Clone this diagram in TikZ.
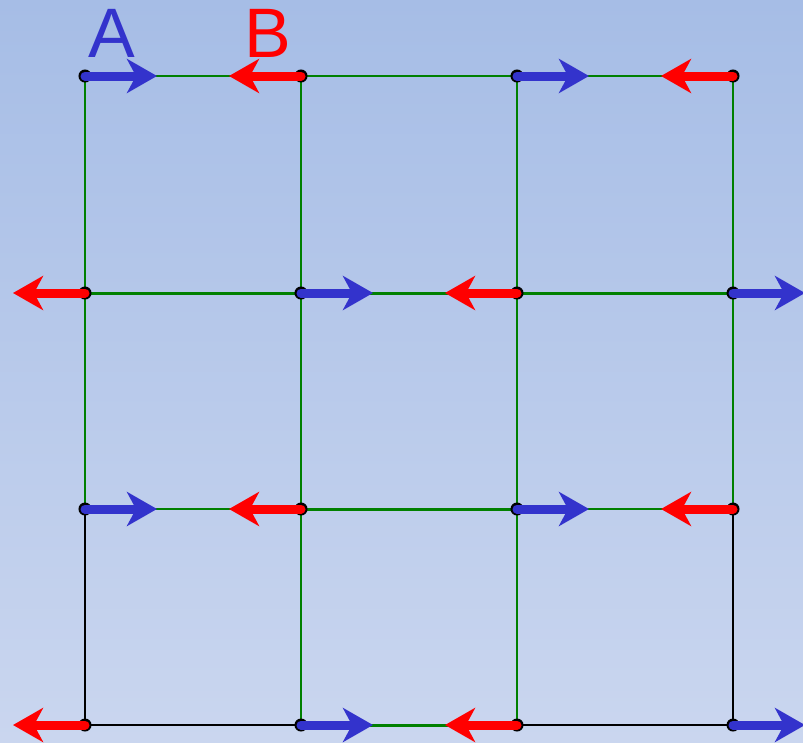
\documentclass[tikz,border=0pt]{standalone}
\usepackage{fontspec}
\setmainfont{Liberation Sans}
\usetikzlibrary{arrows.meta}
\definecolor{bgtop}{RGB}{166,189,230}
\definecolor{bgbot}{RGB}{202,214,239}
\definecolor{gline}{RGB}{0,128,0}
\definecolor{barrow}{RGB}{51,51,204}
\definecolor{rarrow}{RGB}{255,0,0}
\tikzset{
  gl/.style={draw=gline, line width=2pt},
  glthick/.style={draw=gline, line width=3pt},
  bl/.style={draw=black, line width=2pt},
  vec/.style={line width=9pt, line cap=round,
    -{Stealth[length=30pt 0 0,width=34pt 0 0,inset=9pt 0]}},
  bvec/.style={vec, draw=barrow, fill=barrow},
  rvec/.style={vec, draw=rarrow, fill=rarrow},
  pt/.style={circle, draw=black, fill=black, line width=1pt, minimum size=12pt, inner sep=0pt},
  lab/.style={font=\fontsize{70}{70}\selectfont, inner sep=0pt}
}
\begin{document}
\begin{tikzpicture}[x=1pt,y=-1pt]
\shade[top color=bgtop, bottom color=bgbot] (0,0) rectangle (803,742);
\useasboundingbox (0,0) rectangle (803,742);
% grid points
\foreach \i/\x in {1/85,2/301,3/517,4/733}{
  \foreach \j/\y in {1/76,2/293,3/509,4/725}{
    \coordinate (p\i\j) at (\x,\y);
  }
}
% lines
\draw[bl] (p13) -- (p14) -- (p44) -- (p43);
\draw[gl] (p11) -- (p41);
\draw[glthick] (p12) -- (p42);
\draw[gl] (p13) -- (p23);
\draw[glthick] (p23) -- (p33);
\draw[gl] (p33) -- (p43);
\draw[glthick] (p24) -- (p34);
\draw[gl] (p11) -- (p13);
\draw[gl] (p41) -- (p43);
\draw[gl] (p21) -- (p24);
\draw[gl] (p31) -- (p34);
% dots
\foreach \i in {1,2,3,4}{
  \foreach \j in {1,2,3,4}{
    \node[pt] (d\i\j) at (p\i\j) {};
  }
}
% arrow tips
\coordinate (t11) at (157,76);  \coordinate (t21) at (229,76);
\coordinate (t31) at (589,76);  \coordinate (t41) at (661,76);
\coordinate (t12) at (13,293);  \coordinate (t22) at (373,293);
\coordinate (t32) at (445,293); \coordinate (t42) at (805,293);
\coordinate (t13) at (157,509); \coordinate (t23) at (229,509);
\coordinate (t33) at (589,509); \coordinate (t43) at (661,509);
\coordinate (t14) at (13,725);  \coordinate (t24) at (373,725);
\coordinate (t34) at (445,725); \coordinate (t44) at (805,725);
% arrows
\draw[bvec] (d11.center) -- (t11);
\draw[rvec] (d21.center) -- (t21);
\draw[bvec] (d31.center) -- (t31);
\draw[rvec] (d41.center) -- (t41);
\draw[rvec] (d12.center) -- (t12);
\draw[bvec] (d22.center) -- (t22);
\draw[rvec] (d32.center) -- (t32);
\draw[bvec] (d42.center) -- (t42);
\draw[bvec] (d13.center) -- (t13);
\draw[rvec] (d23.center) -- (t23);
\draw[bvec] (d33.center) -- (t33);
\draw[rvec] (d43.center) -- (t43);
\draw[rvec] (d14.center) -- (t14);
\draw[bvec] (d24.center) -- (t24);
\draw[rvec] (d34.center) -- (t34);
\draw[bvec] (d44.center) -- (t44);
% labels
\node[lab, text=barrow] (A) at (112,33) {A};
\node[lab, text=rarrow] (B) at (268,33) {B};
\end{tikzpicture}
\end{document}
